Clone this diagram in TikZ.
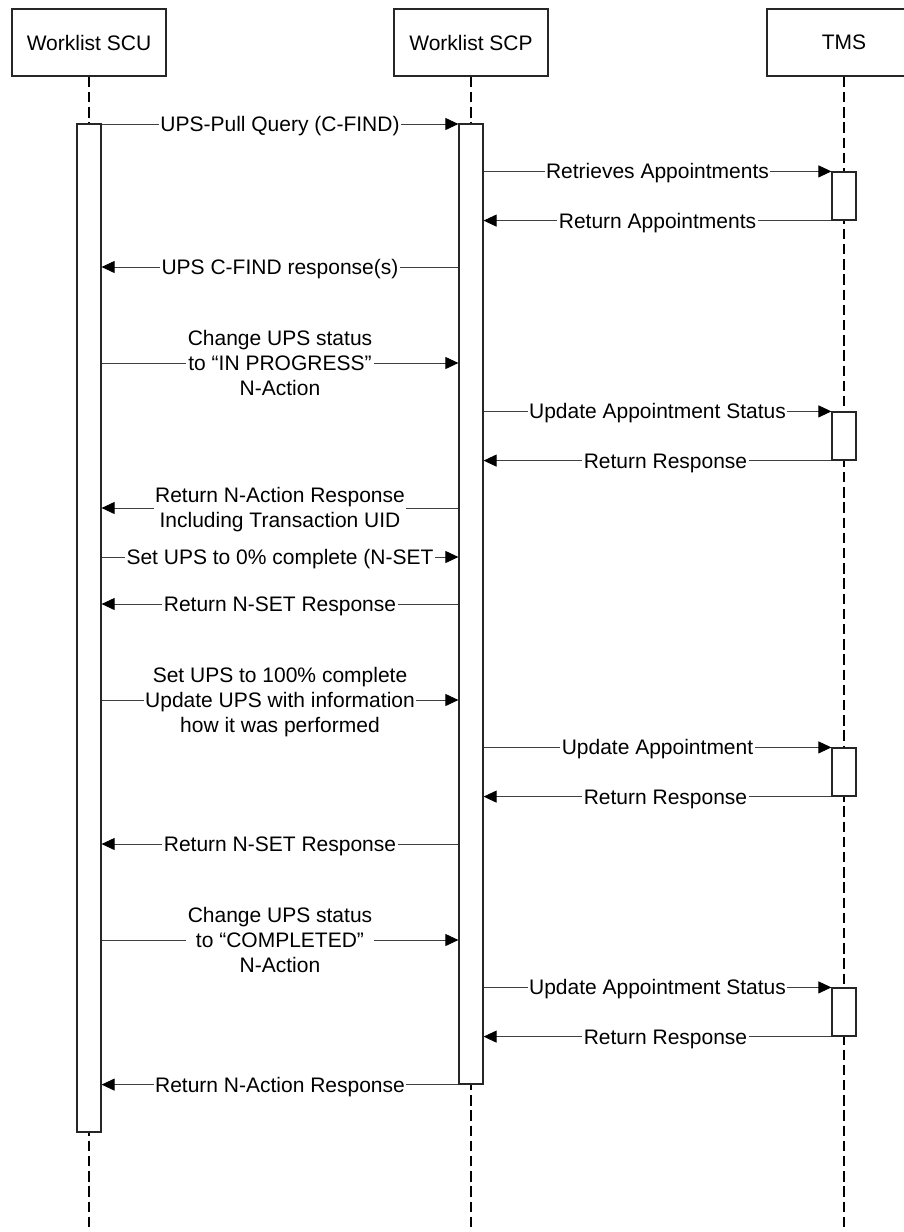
\documentclass[tikz,border=0pt]{standalone}
\usepackage{fontspec}
\setmainfont{Liberation Sans}
\usetikzlibrary{arrows.meta}
\newcommand\msgfont{\fontsize{21}{25}\selectfont}
\begin{document}
\begin{tikzpicture}[x=1pt,y=-1pt,
  actor/.style={draw=black!85,line width=1.4pt,fill=white,minimum width=154pt,minimum height=67pt,inner sep=0pt,font=\msgfont},
  actbar/.style={draw=black!85,line width=1.2pt,fill=white,minimum width=24pt,inner sep=0pt},
  life/.style={draw=black,line width=2pt,dash pattern=on 10.5pt off 4.7pt},
  msg/.style={draw=black!75,line width=0.9pt,-{Triangle[length=13pt,width=12pt,color=black]}},
  lbl/.style={fill=white,inner sep=1.5pt,font=\msgfont,anchor=base,yshift=-7.5pt},
  mlbl/.style={fill=white,inner sep=1.5pt,font=\msgfont,align=center}]
\useasboundingbox (0,0) rectangle (903,1232);

% actors
\node[actor] (scu) at (89,42.5) {Worklist SCU};
\node[actor] (scp) at (471,42.5) {Worklist SCP};
\node[actor] (tms) at (844,42.5) {TMS};

% lifelines
\coordinate (scuend) at (89,1232);
\coordinate (scpend) at (471,1232);
\coordinate (tmsend) at (844,1232);
\draw[life] (scu.south) -- (scuend);
\draw[life] (scp.south) -- (scpend);
\draw[life] (tms.south) -- (tmsend);

% activation bars
\node[actbar,minimum height=1008pt] (scubar) at (89,628) {};
\node[actbar,minimum height=960pt] (scpbar) at (471,604) {};
\node[actbar,minimum height=48pt] (tA) at (844,196) {};
\node[actbar,minimum height=48pt] (tB) at (844,436) {};
\node[actbar,minimum height=48pt] (tC) at (844,772) {};
\node[actbar,minimum height=48pt] (tD) at (844,1012) {};

% messages
\draw[msg] (scubar.east |- 0,124) -- node[lbl]{UPS-Pull Query (C-FIND)} (scpbar.west |- 0,124);
\draw[msg] (scpbar.east |- tA.north) -- node[lbl]{Retrieves Appointments} (tA.north west);
\draw[msg] (tA.south west) -- node[lbl]{Return Appointments} (scpbar.east |- tA.south);
\draw[msg] (scpbar.west |- 0,267) -- node[lbl]{UPS C-FIND response(s)} (scubar.east |- 0,267);
\draw[msg] (scubar.east |- 0,363) -- node[mlbl]{Change UPS status\\to “IN PROGRESS”\\N-Action} (scpbar.west |- 0,363);
\draw[msg] (scpbar.east |- tB.north) -- node[lbl]{Update Appointment Status} (tB.north west);
\draw[msg] (tB.south west) -- node[lbl,xshift=8pt]{Return Response} (scpbar.east |- tB.south);
\draw[msg] (scpbar.west |- 0,508) -- node[mlbl,yshift=-2pt]{Return N-Action Response\\Including Transaction UID} (scubar.east |- 0,508);
\draw[msg] (scubar.east |- 0,557) -- node[lbl]{Set UPS to 0\% complete (N-SET} (scpbar.west |- 0,557);
\draw[msg] (scpbar.west |- 0,604) -- node[lbl]{Return N-SET Response} (scubar.east |- 0,604);
\draw[msg] (scubar.east |- 0,700) -- node[mlbl,yshift=-2.2pt]{Set UPS to 100\% complete\\Update UPS with information\\how it was performed} (scpbar.west |- 0,700);
\draw[msg] (scpbar.east |- tC.north) -- node[lbl]{Update Appointment} (tC.north west);
\draw[msg] (tC.south west) -- node[lbl,xshift=8pt]{Return Response} (scpbar.east |- tC.south);
\draw[msg] (scpbar.west |- 0,844) -- node[lbl]{Return N-SET Response} (scubar.east |- 0,844);
\draw[msg] (scubar.east |- 0,940) -- node[mlbl]{Change UPS status\\to “COMPLETED”\\N-Action} (scpbar.west |- 0,940);
\draw[msg] (scpbar.east |- tD.north) -- node[lbl]{Update Appointment Status} (tD.north west);
\draw[msg] (tD.south west) -- node[lbl,xshift=8pt]{Return Response} (scpbar.east |- tD.south);
\draw[msg] (scpbar.west |- scpbar.south) -- node[lbl]{Return N-Action Response} (scubar.east |- scpbar.south);
\end{tikzpicture}
\end{document}
